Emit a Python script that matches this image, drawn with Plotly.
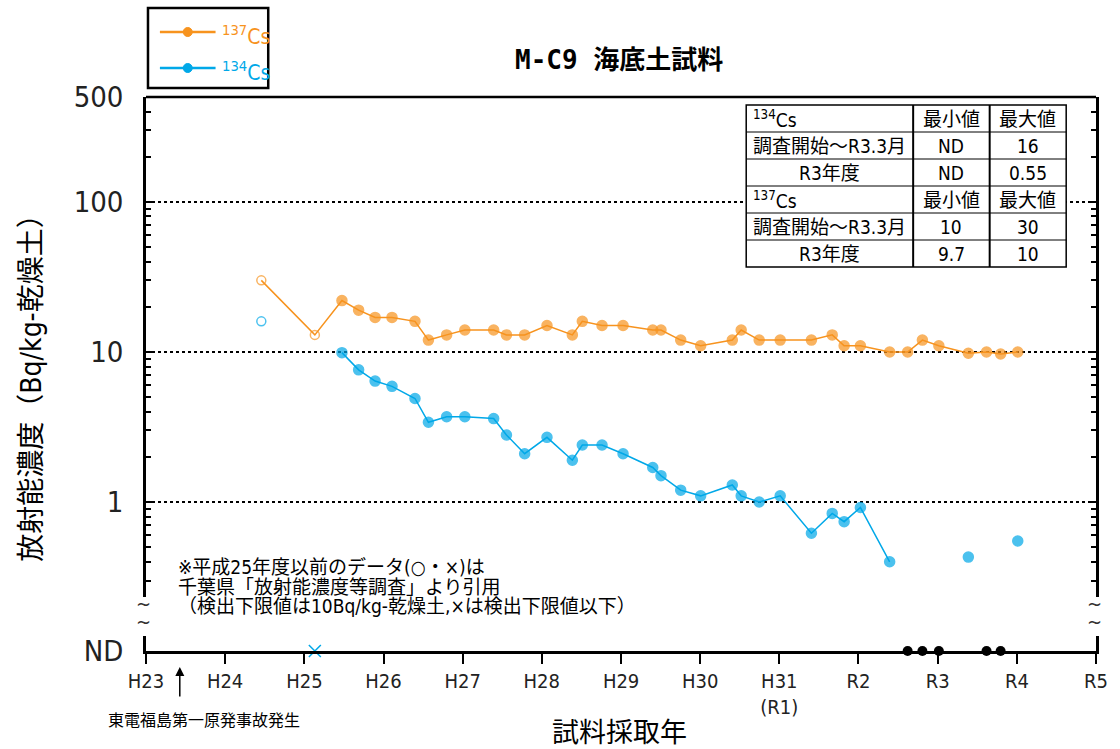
import math
import plotly.graph_objects as go

FONT = "DejaVu Sans Condensed, Noto Sans CJK JP, sans-serif"
ORANGE = "#F7931E"
CYAN = "#00A8E8"

# 千葉県「放射能濃度等調査」（平成25年度以前）
chiba_dates = ["2012-06-16", "2013-02-18"]
chiba_cs137 = [30, 13]
chiba_cs134 = [16, None]          # None = 検出下限値以下

# M-C9 海底土試料
survey_dates = [
    "2013-06-23", "2013-09-08", "2013-11-23",
    "2014-02-09", "2014-05-26", "2014-07-27", "2014-10-19",
    "2015-01-11", "2015-05-24", "2015-07-22", "2015-10-14",
    "2016-01-25", "2016-05-21", "2016-07-06", "2016-10-05",
    "2017-01-10", "2017-05-27", "2017-07-04", "2017-10-03",
    "2018-01-03", "2018-05-29", "2018-07-09", "2018-09-30",
    "2019-01-05", "2019-05-29", "2019-09-02", "2019-10-27",
    "2020-01-10", "2020-05-24", "2020-08-15", "2020-10-22",
    "2021-01-06", "2021-05-22", "2021-08-14", "2021-10-18",
    "2022-01-05",
]
survey_cs137 = [22, 19, 17, 17, 16, 12, 13, 14, 14, 13, 13, 15, 13, 16, 15, 15,
                14, 14, 12, 11, 12, 14, 12, 12, 12, 13, 11, 11, 10, 10, 12, 11,
                9.8, 10, 9.7, 10]
survey_cs134 = [9.9, 7.6, 6.4, 5.9, 4.9, 3.4, 3.7, 3.7, 3.6, 2.8, 2.1, 2.7, 1.9,
                2.4, 2.4, 2.1, 1.7, 1.5, 1.2, 1.1, 1.3, 1.1, 1.0, 1.1, 0.62,
                0.84, 0.74, 0.92, 0.40, None, None, None, 0.43, None, None, 0.55]

# x axis: labels at each January
year_ticks = [f"{y}-01-01" for y in range(2011, 2024)]
year_labels = ["H23", "H24", "H25", "H26", "H27", "H28", "H29", "H30",
               "H31<br>(R1)", "R2", "R3", "R4", "R5"]

# y axis (log part)
y_tickvals = [1, 10, 100, 500]
y_ticktext = ["1", "10", "100", "500"]
y_minor = [m * 10 ** e for e in (-1, 0, 1, 2) for m in range(2, 10)
           if 0.25 < m * 10 ** e < 500]

# summary table
table_cols = ["最小値", "最大値"]
table_rows = ["調査開始～R3.3月", "R3年度"]
cs134_min = ["ND", "ND"]
cs134_max = ["16", "0.55"]
cs137_min = ["10", "9.7"]
cs137_max = ["30", "10"]

notes = [
    "※平成25年度以前のデータ(○・×)は",
    "千葉県「放射能濃度等調査」より引用",
    "（検出下限値は10Bq/kg-乾燥土,×は検出下限値以下）",
]

# plot-area geometry (pixels) used to place the decorations
L, R, T, B = 146, 1102, 97, 651


def px(x):
    return (x - L) / (R - L)


def py(y):
    return (B - y) / (B - T)


all_dates = chiba_dates + survey_dates
all_cs137 = chiba_cs137 + survey_cs137
all_cs134 = chiba_cs134 + survey_cs134
symbols = ["circle-open"] * len(chiba_dates) + ["circle"] * len(survey_dates)
sizes = [9] * len(chiba_dates) + [10] * len(survey_dates)

fig = go.Figure()

# 137Cs
fig.add_trace(go.Scatter(
    x=all_dates, y=all_cs137, mode="lines+markers", name="137Cs",
    line=dict(color=ORANGE, width=1.5),
    marker=dict(symbol=symbols, size=sizes, color=ORANGE,
                line=dict(color=ORANGE, width=1.5)),
    xaxis="x", yaxis="y", showlegend=False, cliponaxis=False,
))

# 134Cs (gaps where not detected)
fig.add_trace(go.Scatter(
    x=all_dates, y=all_cs134, mode="lines+markers", name="134Cs",
    connectgaps=False,
    line=dict(color=CYAN, width=1.5),
    marker=dict(symbol=symbols, size=sizes, color=CYAN,
                line=dict(color=CYAN, width=1.5)),
    xaxis="x", yaxis="y", showlegend=False, cliponaxis=False,
))

# ND row: 千葉県調査 (×) and this survey (●)
chiba_nd = [d for d, v in zip(chiba_dates, chiba_cs134) if v is None]
survey_nd = [d for d, v in zip(survey_dates, survey_cs134) if v is None]
fig.add_trace(go.Scatter(
    x=chiba_nd, y=[0] * len(chiba_nd), mode="markers",
    marker=dict(symbol="x-thin", size=12, color=CYAN,
                line=dict(color=CYAN, width=1.5)),
    xaxis="x", yaxis="y2", showlegend=False, cliponaxis=False,
))
fig.add_trace(go.Scatter(
    x=survey_nd, y=[0] * len(survey_nd), mode="markers",
    marker=dict(symbol="circle", size=10, color="black"),
    xaxis="x", yaxis="y2", showlegend=False, cliponaxis=False,
))


def label(text, x, y, size, color="black", xanchor="center", **kw):
    return dict(text=text, x=x, y=y, xref="paper", yref="paper",
                xanchor=xanchor, yanchor="middle", showarrow=False,
                font=dict(family=kw.pop("family", FONT), size=size, color=color,
                          **kw.pop("font_kw", {})), **kw)


annotations = [
    label("M-C9 海底土試料", px(622), py(60), 26,
          family="DejaVu Sans Mono, Noto Sans CJK JP",
          font_kw=dict(weight="bold")),
    label("放射能濃度（Bq/kg-乾燥土）", px(30), py(381), 28, textangle=-90),
    label("試料採取年", px(622), py(733), 27),
    label("東電福島第一原発事故発生", px(204), py(720), 16),
    dict(text="", x=px(180), y=py(667), xref="paper", yref="paper",
         showarrow=True, ax=0, ay=31, arrowhead=2, arrowsize=1.2,
         arrowwidth=1.5, arrowcolor="black"),
]
for i, line in enumerate(notes):
    annotations.append(label(line, px(176), py(567 + i * 19.5), 19,
                             xanchor="left"))
# axis break marks
for xb in (143, 1100):
    for yb in (604, 622):
        annotations.append(label("~", px(xb), py(yb), 20, color="#333"))

shapes = [
    # top frame
    dict(type="line", xref="paper", yref="paper", x0=0, x1=1, y0=1, y1=1,
         line=dict(color="black", width=2.5)),
    # legend box
    dict(type="rect", xref="paper", yref="paper", x0=px(148), x1=px(269),
         y0=py(88), y1=py(8), line=dict(color="black", width=2.5)),
]

# legend
for sup, col, yl in (("137", ORANGE, 32), ("134", CYAN, 68)):
    shapes.append(dict(type="line", xref="paper", yref="paper",
                       x0=px(160), x1=px(216), y0=py(yl), y1=py(yl),
                       line=dict(color=col, width=2.5)))
    shapes.append(dict(type="circle", xref="paper", yref="paper",
                       xsizemode="pixel", ysizemode="pixel",
                       xanchor=px(188), yanchor=py(yl),
                       x0=-4.5, x1=4.5, y0=-4.5, y1=4.5,
                       fillcolor=col, line=dict(color=col, width=1)))
    annotations.append(label(f"<sup>{sup}</sup>Cs", px(220), py(yl + 3), 21,
                             color=col, xanchor="left"))

# summary table (two blocks of three rows)
col_edges = [750, 918, 995, 1072]
row_h = 27
table_top = 105
table_rows_text = []
for sup, vmin, vmax in (("134", cs134_min, cs134_max),
                        ("137", cs137_min, cs137_max)):
    table_rows_text.append([f"<sup>{sup}</sup>Cs"] + table_cols)
    for name, a, b in zip(table_rows, vmin, vmax):
        table_rows_text.append([name, a, b])
table_bottom = table_top + row_h * len(table_rows_text)

shapes.append(dict(type="rect", xref="paper", yref="paper",
                   x0=px(col_edges[0]), x1=px(col_edges[-1]),
                   y0=py(table_bottom), y1=py(table_top),
                   fillcolor="white", line=dict(color="black", width=1.5)))
for xe in col_edges[1:-1]:
    shapes.append(dict(type="line", xref="paper", yref="paper",
                       x0=px(xe), x1=px(xe), y0=py(table_bottom), y1=py(table_top),
                       line=dict(color="black", width=2)))
for r in range(1, len(table_rows_text)):
    ye = table_top + r * row_h
    shapes.append(dict(type="line", xref="paper", yref="paper",
                       x0=px(col_edges[0]), x1=px(col_edges[-1]), y0=py(ye), y1=py(ye),
                       line=dict(color="black", width=1)))
for r, row in enumerate(table_rows_text):
    yc = table_top + (r + 0.5) * row_h
    for c, txt in enumerate(row):
        if c == 0 and txt.endswith("Cs"):
            annotations.append(label(txt, px(col_edges[0] + 5), py(yc), 19,
                                     xanchor="left"))
        else:
            xc = (col_edges[c] + col_edges[c + 1]) / 2
            annotations.append(label(txt, px(xc), py(yc), 19))

fig.update_layout(
    width=1120, height=749, autosize=False,
    margin=dict(l=L, r=1120 - R, t=T, b=749 - B),
    paper_bgcolor="white", plot_bgcolor="white",
    showlegend=False,
    xaxis=dict(
        type="date", range=["2011-01-01", "2023-01-01"], anchor="y2",
        tickmode="array", tickvals=year_ticks, ticktext=year_labels,
        ticks="outside", ticklen=10, tickwidth=2, tickcolor="black",
        showline=True, linewidth=2.5, linecolor="black",
        showgrid=False, zeroline=False,
        tickfont=dict(family=FONT, size=20, color="#222"),
    ),
    yaxis=dict(
        type="log", domain=[py(597), 1],
        range=[math.log10(0.233), math.log10(500)], anchor="x",
        tickmode="array", tickvals=y_tickvals, ticktext=y_ticktext,
        ticks="inside", ticklen=8, tickwidth=2, tickcolor="black",
        showline=True, linewidth=2.5, linecolor="black", mirror="ticks",
        showgrid=True, gridcolor="black", gridwidth=2, griddash="dot",
        minor=dict(tickmode="array", tickvals=y_minor, ticks="inside",
                   ticklen=5, tickwidth=2, tickcolor="black", showgrid=False),
        zeroline=False, ticklabelstandoff=14,
        tickfont=dict(family=FONT, size=29, color="#222"),
    ),
    yaxis2=dict(
        domain=[0, py(636)], range=[0, 1], anchor="x",
        tickmode="array", tickvals=[0], ticktext=["ND"], ticks="",
        showline=True, linewidth=2.5, linecolor="black", mirror=True,
        showgrid=False, zeroline=False, ticklabelstandoff=14,
        tickfont=dict(family=FONT, size=29, color="#222"),
    ),
    annotations=annotations,
    shapes=shapes,
)

fig.write_html("out.html")
